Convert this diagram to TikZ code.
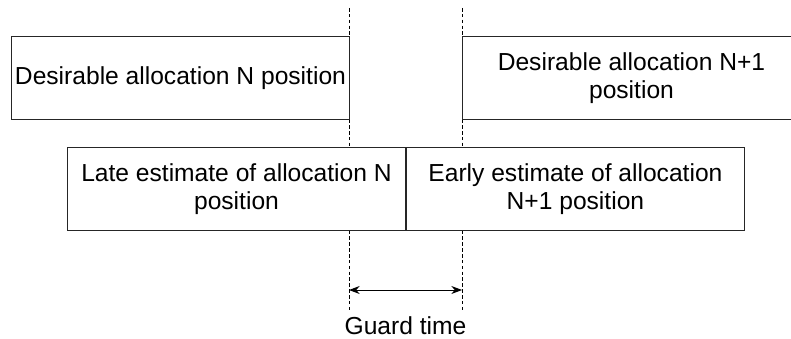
\documentclass[tikz,border=0pt]{standalone}
\usepackage{fontspec}
\setmainfont{Liberation Sans}
\usetikzlibrary{positioning,arrows.meta}
\tikzset{
  slotbox/.style={draw=black!85,fill=white,line width=0.8pt,minimum width=10.14cm,
    minimum height=2.49cm,align=center,inner sep=0pt,
    font=\fontsize{21}{24}\selectfont},
  guide/.style={draw=black,line width=0.7pt,dash pattern=on 3pt off 2pt},
  gapflow/.style={{Stealth[length=3.2mm]}-{Stealth[length=3.2mm]},line width=0.8pt}
}

\begin{document}
\begin{tikzpicture}[x=0.03cm,y=-0.03cm]
  \useasboundingbox (0,0) rectangle (791,339);
  % guard time markers (behind the boxes)
  \coordinate (gl top) at (349,8);
  \coordinate (gl bot) at (349,312);
  \coordinate (gr top) at (462,8);
  \coordinate (gr bot) at (462,312);
  \coordinate (gl arr) at (349,290);
  \coordinate (gr arr) at (462,290);
  \draw[guide] (gl top) -- (gl bot);
  \draw[guide] (gr top) -- (gr bot);
  % desired positions
  \node[slotbox,anchor=north west] (wantN) at (11,36) {Desirable allocation N position};
  \node[slotbox,anchor=north west] (wantNone) at (462,36) {Desirable allocation N+1\\position};
  % estimated positions
  \node[slotbox,anchor=north west] (lateN) at (67,147) {Late estimate of allocation N\\position};
  \node[slotbox,right=0cm of lateN] (earlyNone) {Early estimate of allocation\\N+1 position};
  \draw[gapflow] (gl arr) -- (gr arr);
  \node[font=\fontsize{21}{24}\selectfont] (guard) at (405.5,326) {Guard time};
\end{tikzpicture}
\end{document}
